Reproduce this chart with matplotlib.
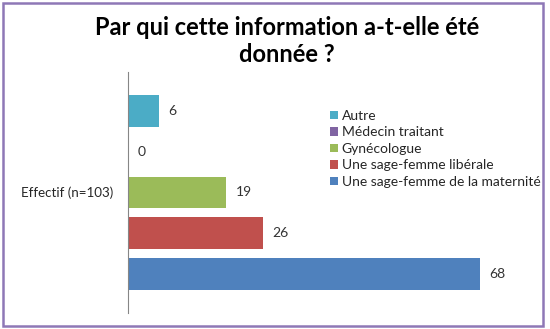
import matplotlib
matplotlib.use('Agg')
import matplotlib.pyplot as plt
from matplotlib.patches import Rectangle

plt.rcParams['font.family'] = ['Lato', 'DejaVu Sans']

# données
categories = ['Une sage-femme de la maternité', 'Une sage-femme libérale',
              'Gynécologue', 'Médecin traitant', 'Autre']
values = [68, 26, 19, 0, 6]
colors = ['#4F81BD', '#C0504D', '#9BBB59', '#8064A2', '#4BACC6']
title = 'Par qui cette information a-t-elle été\ndonnée ?'
ylabel = 'Effectif (n=103)'

fig = plt.figure(figsize=(5.5, 3.29), dpi=100)
ax = fig.add_axes([128 / 550, 16 / 329, 414 / 550, 241 / 329])

pos = list(range(len(values)))
bars = []
for p, v, c, lab in zip(pos, values, colors, categories):
    b = ax.barh(p, v, height=0.79, color=c, label=lab)
    bars.append(b)
    ax.text(v + 1.8, p, str(v), va='center', ha='left', fontsize=10, color='#333333')

ax.set_xlim(0, 80)
ax.set_ylim(-0.975, 4.975)
for s in ['top', 'right', 'bottom']:
    ax.spines[s].set_visible(False)
ax.spines['left'].set_color('#868686')
ax.set_xticks([])
ax.set_yticks([])
fig.text(113 / 550, 1 - 193 / 329, ylabel, ha='right', va='center', fontsize=9.6, color='#262626')

fig.text(287 / 550, 1 - 41 / 329, title, ha='center', va='center', fontsize=17,
         fontweight='bold', linespacing=1.22)

handles = bars[::-1]
ax.legend(handles, categories[::-1], loc='upper left', bbox_to_anchor=(330 / 550, 1 - 110 / 329),
          bbox_transform=fig.transFigure, frameon=False, fontsize=10, handlelength=0.55,
          handleheight=0.55, handletextpad=0.3, labelspacing=0.32, borderpad=0, borderaxespad=0,
          labelcolor='#262626')

fig.patches.append(Rectangle((3 / 550, 3 / 329), 540 / 550, 323 / 329, transform=fig.transFigure,
                             fill=False, edgecolor='#8E78B6', linewidth=1.8))

plt.savefig('out.png', dpi=100)
